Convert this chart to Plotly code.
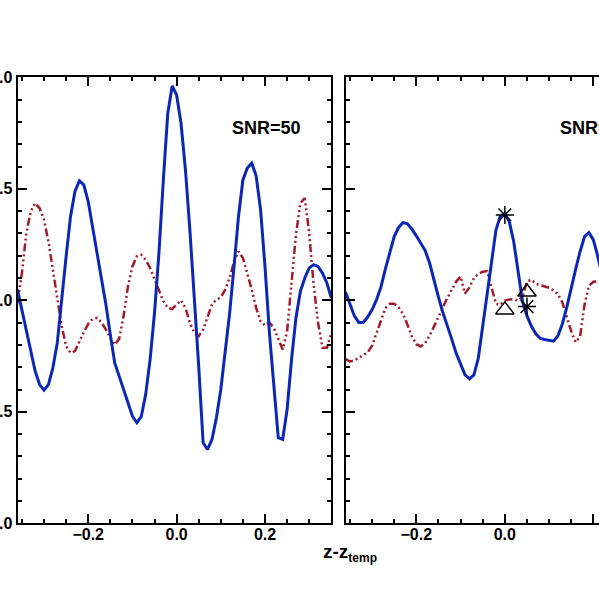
import plotly.graph_objects as go

# redshift offsets sampled every 0.01
z_left = [-0.36, -0.35, -0.34, -0.33, -0.32, -0.31, -0.30, -0.29, -0.28, -0.27,
          -0.26, -0.25, -0.24, -0.23, -0.22, -0.21, -0.20, -0.19, -0.18, -0.17,
          -0.16, -0.15, -0.14, -0.13, -0.12, -0.11, -0.10, -0.09, -0.08, -0.07,
          -0.06, -0.05, -0.04, -0.03, -0.02, -0.01, 0.00, 0.01, 0.02, 0.03,
          0.04, 0.05, 0.06, 0.07, 0.08, 0.09, 0.10, 0.11, 0.12, 0.13,
          0.14, 0.15, 0.16, 0.17, 0.18, 0.19, 0.20, 0.21, 0.22, 0.23,
          0.24, 0.25, 0.26, 0.27, 0.28, 0.29, 0.30, 0.31, 0.32, 0.33,
          0.34, 0.35]
z_right = z_left[:59]

# SNR=50 panel
blue_50 = [0.048, -0.042, -0.139, -0.236, -0.318, -0.378, -0.403, -0.378, -0.303, -0.191,
           0.018, 0.197, 0.376, 0.488, 0.536, 0.518, 0.443, 0.331, 0.219, 0.100,
           -0.019, -0.154, -0.281, -0.340, -0.400, -0.460, -0.519, -0.549, -0.522, -0.422,
           -0.266, -0.057, 0.212, 0.540, 0.839, 0.961, 0.921, 0.794, 0.585, 0.316,
           0.018, -0.296, -0.639, -0.669, -0.624, -0.527, -0.400, -0.236, -0.057, 0.152,
           0.376, 0.540, 0.593, 0.615, 0.558, 0.406, 0.152, -0.146, -0.400, -0.616,
           -0.624, -0.490, -0.266, -0.079, 0.040, 0.100, 0.145, 0.160, 0.152, 0.122,
           0.078, 0.010]
red_50 = [-0.012, 0.122, 0.301, 0.399, 0.436, 0.413, 0.361, 0.264, 0.137, 0.003,
          -0.116, -0.206, -0.236, -0.228, -0.184, -0.143, -0.106, -0.084, -0.079, -0.099,
          -0.131, -0.169, -0.199, -0.173, -0.072, 0.063, 0.152, 0.197, 0.204, 0.182,
          0.145, 0.093, 0.040, -0.004, -0.034, -0.039, -0.019, 0.000, -0.034, -0.101,
          -0.146, -0.161, -0.131, -0.079, -0.019, 0.003, 0.013, 0.048, 0.100, 0.175,
          0.219, 0.190, 0.122, 0.048, -0.034, -0.094, -0.113, -0.099, -0.124, -0.176,
          -0.221, -0.139, 0.078, 0.294, 0.436, 0.458, 0.301, 0.070, -0.101, -0.213,
          -0.213, -0.146]

# second panel
blue_2 = [0.037, -0.020, -0.070, -0.099, -0.099, -0.075, -0.043, 0.002, 0.059, 0.140,
          0.219, 0.286, 0.327, 0.349, 0.343, 0.319, 0.289, 0.256, 0.223, 0.167,
          0.084, 0.014, -0.055, -0.110, -0.174, -0.237, -0.289, -0.334, -0.352, -0.335,
          -0.260, -0.117, 0.047, 0.189, 0.316, 0.379, 0.388, 0.353, 0.264, 0.129,
          -0.005, -0.070, -0.117, -0.150, -0.171, -0.176, -0.179, -0.183, -0.159, -0.105,
          -0.031, 0.058, 0.140, 0.219, 0.286, 0.304, 0.271, 0.197, 0.110]
red_2 = [-0.264, -0.274, -0.270, -0.259, -0.247, -0.234, -0.204, -0.147, -0.084, -0.035,
         -0.016, -0.016, -0.031, -0.061, -0.110, -0.162, -0.197, -0.207, -0.192, -0.159,
         -0.117, -0.070, -0.031, 0.010, 0.050, 0.084, 0.107, 0.030, 0.058, 0.099,
         0.119, 0.128, 0.131, 0.062, -0.016, -0.020, -0.001, 0.004, 0.005, -0.001,
         0.017, 0.084, 0.092, 0.074, 0.068, 0.065, 0.056, 0.044, 0.028, -0.010,
         -0.072, -0.140, -0.188, -0.162, -0.020, 0.065, 0.083, 0.084, 0.086]

star_z = [0.0, 0.05]
star_y = [0.383, -0.028]
tri_z = [0.0, 0.05]
tri_y = [-0.043, 0.037]

BLUE = '#0a28b4'
RED = '#a01c2c'
DASH = '8px,3px,2px,3px,2px,3px,2px,3px'
FONT = 'Liberation Sans, Arial, sans-serif'

fig = go.Figure()
fig.add_trace(go.Scatter(x=z_left, y=red_50, mode='lines',
                         line=dict(color=RED, width=2.5, dash=DASH), xaxis='x', yaxis='y'))
fig.add_trace(go.Scatter(x=z_left, y=blue_50, mode='lines',
                         line=dict(color=BLUE, width=3), xaxis='x', yaxis='y'))
fig.add_trace(go.Scatter(x=z_right, y=red_2, mode='lines',
                         line=dict(color=RED, width=2.5, dash=DASH), xaxis='x2', yaxis='y2'))
fig.add_trace(go.Scatter(x=z_right, y=blue_2, mode='lines',
                         line=dict(color=BLUE, width=3), xaxis='x2', yaxis='y2'))
fig.add_trace(go.Scatter(x=star_z, y=star_y, mode='markers',
                         marker=dict(symbol='asterisk-open', size=15, color='black',
                                     line=dict(color='black', width=1.5)),
                         xaxis='x2', yaxis='y2'))
fig.add_trace(go.Scatter(x=tri_z, y=tri_y, mode='markers',
                         marker=dict(symbol='triangle-up-open', size=16, color='black',
                                     line=dict(color='black', width=1.5)),
                         xaxis='x2', yaxis='y2'))

ax = dict(showline=True, linecolor='black', linewidth=2, ticks='inside', ticklen=9,
          tickwidth=1.5, tickcolor='black', showgrid=False, zeroline=False, automargin=False,
          tickfont=dict(family=FONT, size=16, color='black', weight='bold'))
xax = dict(ax, dtick=0.2, tick0=0, tickformat='.1f', mirror='ticks', ticklabelstandoff=-5,
           minor=dict(dtick=0.05, ticks='inside', ticklen=4, tickcolor='black', tickwidth=1.5))
yax = dict(ax, dtick=0.5, tick0=0, tickformat='.1f', range=[-1, 1],
           domain=[76.7 / 600, 522.7 / 600],
           minor=dict(dtick=0.1, ticks='inside', ticklen=4, tickcolor='black', tickwidth=1.5))

fig.update_layout(
    width=599, height=600, margin=dict(l=0, r=0, t=0, b=0, autoexpand=False),
    paper_bgcolor='white', plot_bgcolor='white', showlegend=False,
    xaxis=dict(xax, domain=[17.5 / 599, 331.3 / 599], range=[-0.36, 0.35], anchor='y'),
    yaxis=dict(yax, mirror='ticks', anchor='x'),
    xaxis2=dict(xax, domain=[345.5 / 599, 1.0], range=[-0.36, 0.2127], anchor='y2'),
    yaxis2=dict(yax, mirror=False, showticklabels=False, anchor='x2'),
    annotations=[
        dict(text='<b>SNR=50</b>', x=0.12, y=0.773, xref='x', yref='y', xanchor='left',
             yanchor='middle', showarrow=False, font=dict(family=FONT, size=18, color='black')),
        dict(text='<b>SNR=10</b>', x=0.12, y=0.773, xref='x2', yref='y2', xanchor='left',
             yanchor='middle', showarrow=False, font=dict(family=FONT, size=18, color='black')),
        dict(text="<b>z-z<sub><span style='font-size:12px'>temp</span></sub></b>",
             x=321 / 599, y=1 - 553 / 600, xref='paper', yref='paper', xanchor='left',
             yanchor='middle', showarrow=False, font=dict(family=FONT, size=19, color='black')),
    ],
)

fig.write_html("out.html", config={'displayModeBar': False},
               post_script="document.body.style.margin='0px';document.body.style.overflow='hidden';")
